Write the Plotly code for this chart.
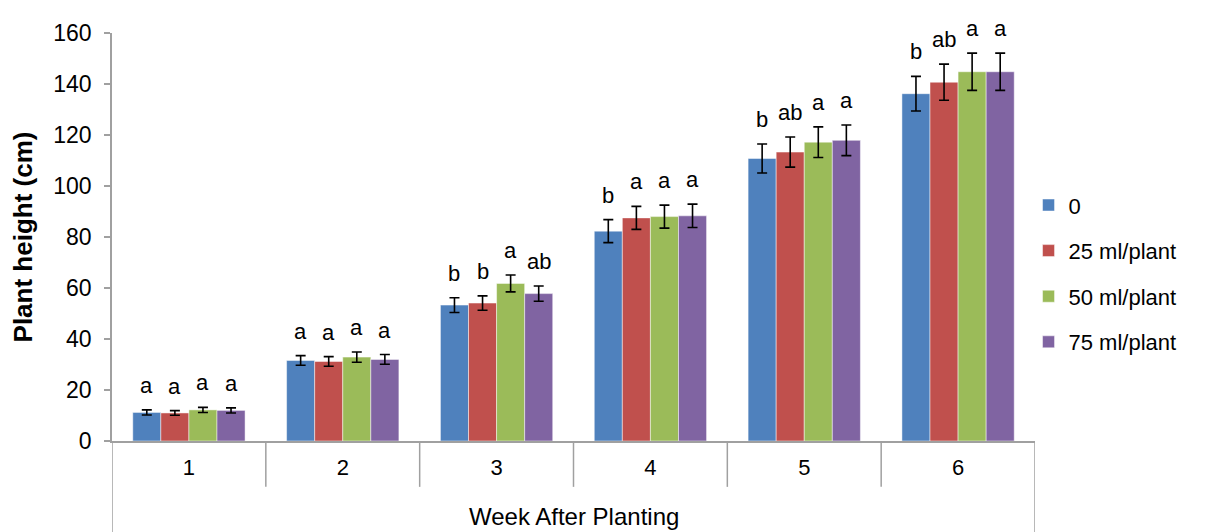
import plotly.graph_objects as go

weeks = ["1", "2", "3", "4", "5", "6"]
series_names = ["0", "25 ml/plant", "50 ml/plant", "75 ml/plant"]
colors = ["#4F81BD", "#C0504D", "#9BBB59", "#8064A2"]

h_0 = [11.2, 31.6, 53.3, 82.3, 110.8, 136.2]
h_25 = [11.0, 31.2, 54.1, 87.5, 113.3, 140.7]
h_50 = [12.2, 32.9, 61.8, 88.0, 117.2, 144.8]
h_75 = [12.0, 32.0, 57.8, 88.3, 117.9, 144.8]

e_0 = [1.0, 1.9, 2.9, 4.5, 5.7, 6.8]
e_25 = [0.9, 1.9, 2.8, 4.5, 5.9, 7.1]
e_50 = [1.0, 2.0, 3.3, 4.5, 6.0, 7.3]
e_75 = [1.0, 1.9, 3.0, 4.6, 6.0, 7.3]

l_0 = ["a", "a", "b", "b", "b", "b"]
l_25 = ["a", "a", "b", "a", "ab", "ab"]
l_50 = ["a", "a", "a", "a", "a", "a"]
l_75 = ["a", "a", "ab", "a", "a", "a"]

heights = [h_0, h_25, h_50, h_75]
errors = [e_0, e_25, e_50, e_75]
letters = [l_0, l_25, l_50, l_75]

FONT = "Liberation Sans, Arial"
bargap = 0.27
fig = go.Figure()
for j, name in enumerate(series_names):
    fig.add_trace(go.Bar(
        x=list(range(len(weeks))), y=heights[j], name=name,
        marker=dict(color=colors[j], line=dict(color="rgba(255,255,255,0.6)", width=0.8)),
        error_y=dict(type="data", array=errors[j], visible=True, color="black", thickness=1.6, width=5),
        legendgroup=name,
    ))

bw = (1 - bargap) / 4
annotations = []
for j in range(4):
    for i in range(len(weeks)):
        annotations.append(dict(
            x=i + (j - 1.5) * bw, y=heights[j][i] + errors[j][i], xref="x", yref="y",
            text=letters[j][i], showarrow=False, yanchor="bottom", yshift=10,
            font=dict(family=FONT, size=22, color="black"),
        ))

annotations.append(dict(
    x=0.5, y=-0.184, xref="paper", yref="paper", text="Week After Planting",
    showarrow=False, xanchor="center", yanchor="middle",
    font=dict(family=FONT, size=24, color="black"),
))

shapes = []
for k in range(len(weeks) + 1):
    outer = k == 0 or k == len(weeks)
    shapes.append(dict(
        type="line", xref="x", yref="paper", x0=k - 0.5, x1=k - 0.5,
        y0=0, y1=-0.25 if outer else -0.1124,
        line=dict(color="#A0A0A0", width=1.5),
    ))

fig.update_layout(
    width=1200, height=524,
    margin=dict(l=104, r=173, t=15, b=91),
    paper_bgcolor="white", plot_bgcolor="white",
    barmode="group", bargap=bargap, bargroupgap=0,
    font=dict(family=FONT, size=22, color="black"),
    showlegend=True,
    legend=dict(x=0.993, y=0.41, xanchor="left", yanchor="middle",
                font=dict(size=22), tracegroupgap=14, itemwidth=30,
                bgcolor="rgba(0,0,0,0)"),
    xaxis=dict(range=[-0.5, 5.5], tickmode="array", tickvals=list(range(6)), ticktext=weeks,
               showline=True, linecolor="#A0A0A0", linewidth=1.5, ticks="",
               showgrid=False, zeroline=False, ticklabelstandoff=6,
               tickfont=dict(size=22)),
    yaxis=dict(range=[0, 160], tickvals=[0, 20, 40, 60, 80, 100, 120, 140, 160],
               showline=True, linecolor="#A0A0A0", linewidth=1.5, ticks="outside",
               ticklen=6, tickcolor="#A0A0A0", tickwidth=1.5, showgrid=False, zeroline=False,
               tickfont=dict(size=23), ticklabelstandoff=8,
               title=dict(text="<b>Plant height (cm)</b>", font=dict(size=26), standoff=14)),
    annotations=annotations, shapes=shapes,
)

fig.write_html("out.html")
